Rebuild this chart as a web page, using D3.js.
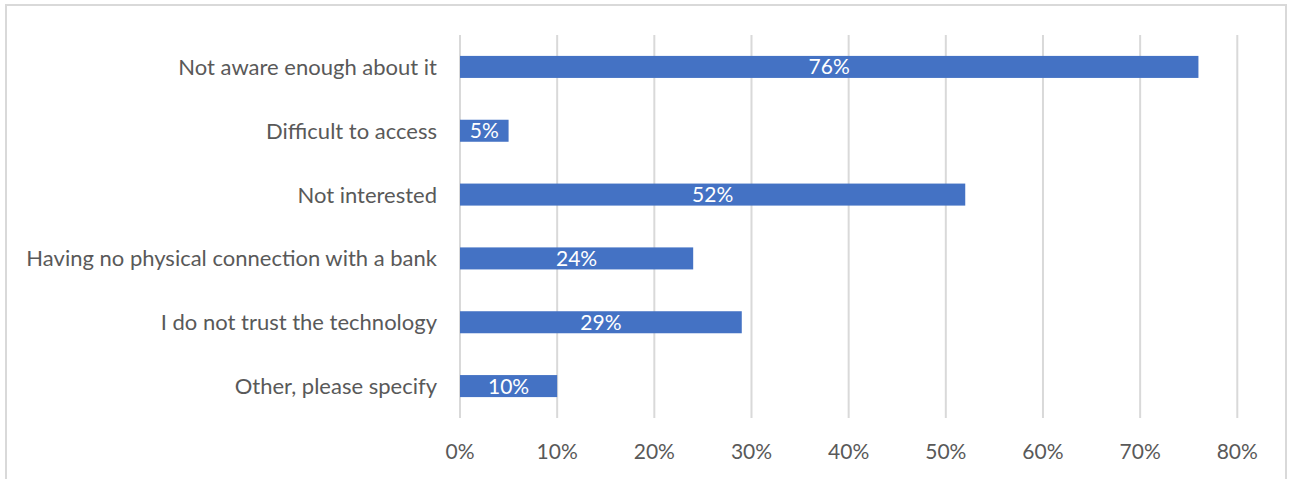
<!DOCTYPE html>
<html><head><meta charset="utf-8">
<script src="https://cdn.jsdelivr.net/npm/d3@7"></script>
<style>body{margin:0;background:#fff;} text{font-family:Lato,"Open Sans",sans-serif;}</style>
</head><body><svg id="c" width="1289" height="479"></svg>
<script>
const categories = ["Not aware enough about it","Difficult to access","Not interested","Having no physical connection with a bank","I do not trust the technology","Other, please specify"];
const values = [76,5,52,24,29,10];
const ticks = [0,10,20,30,40,50,60,70,80];

const svg = d3.select("#c");
svg.append("rect").attr("x",6).attr("y",5).attr("width",1280).attr("height",480)
  .attr("fill","#fff").attr("stroke","#d9d9d9").attr("stroke-width",2);

const x = d3.scaleLinear().domain([0,80]).range([460,1237.3]);
const y = d3.scaleBand().domain(categories).range([35,418]).paddingInner(0.655).paddingOuter(0.3275);

svg.append("g").selectAll("line").data(ticks).join("line")
  .attr("x1",d=>x(d)).attr("x2",d=>x(d)).attr("y1",35).attr("y2",418)
  .attr("stroke","#d9d9d9").attr("stroke-width",2);

svg.append("g").selectAll("rect").data(values).join("rect")
  .attr("x",x(0)).attr("y",(d,i)=>y(categories[i])).attr("width",d=>x(d)-x(0))
  .attr("height",y.bandwidth()).attr("fill","#4472C4");

svg.append("g").selectAll("text").data(values).join("text")
  .attr("x",d=>(x(0)+x(d))/2).attr("y",(d,i)=>y(categories[i])+y.bandwidth()/2)
  .attr("dy","0.36em").attr("text-anchor","middle").attr("fill","#fff").attr("font-size",21)
  .text(d=>d+"%");

svg.append("g").selectAll("text").data(categories).join("text")
  .attr("x",437).attr("y",d=>y(d)+y.bandwidth()/2).attr("dy","0.36em")
  .attr("text-anchor","end").attr("fill","#595959").attr("font-size",22).text(d=>d);

svg.append("g").selectAll("text").data(ticks).join("text")
  .attr("x",d=>x(d)).attr("y",451).attr("dy","0.36em").attr("text-anchor","middle")
  .attr("fill","#595959").attr("font-size",21).text(d=>d+"%");
</script></body></html>
